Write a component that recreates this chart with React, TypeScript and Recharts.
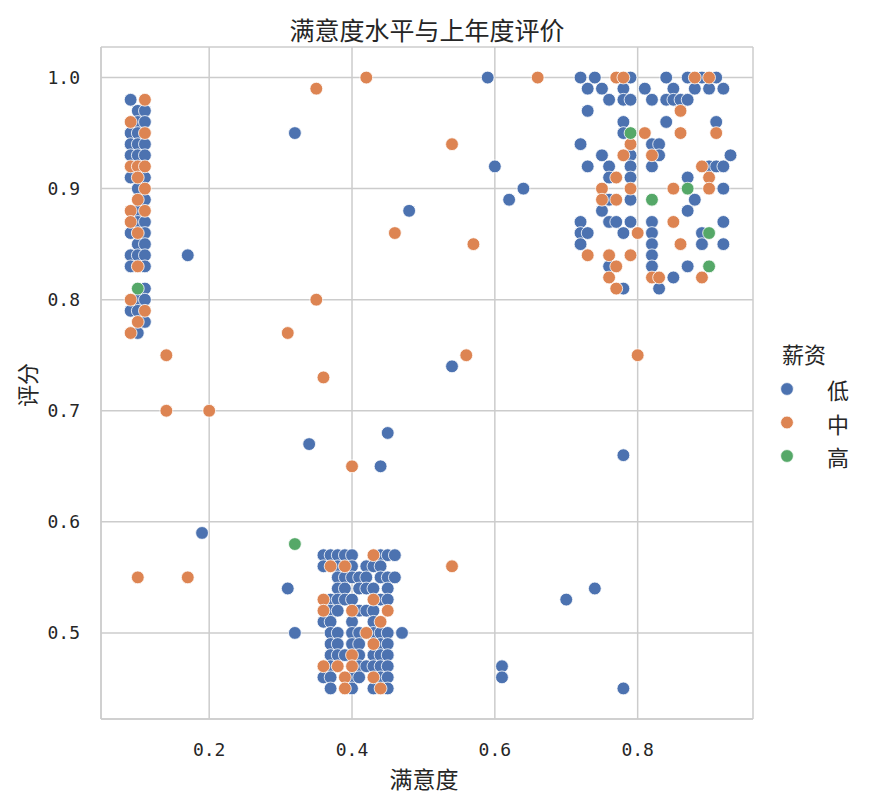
import React from 'react';
import { ScatterChart, Scatter, XAxis, YAxis, CartesianGrid } from 'recharts';

// [满意度, 评分] 按薪资分组
const lowPoints: [number, number][] = [
  // 左上簇
  [0.09, 0.98], [0.10, 0.97], [0.11, 0.97], [0.10, 0.96], [0.11, 0.96], [0.09, 0.95], [0.10, 0.95],
  [0.09, 0.94], [0.10, 0.94], [0.11, 0.94], [0.09, 0.93], [0.10, 0.93], [0.11, 0.93], [0.09, 0.91],
  [0.11, 0.91], [0.10, 0.90], [0.11, 0.89], [0.10, 0.88], [0.10, 0.87], [0.11, 0.87], [0.09, 0.86],
  [0.11, 0.86], [0.10, 0.85], [0.11, 0.85], [0.09, 0.84], [0.10, 0.84], [0.11, 0.84], [0.09, 0.83],
  [0.11, 0.83], [0.11, 0.81], [0.10, 0.80], [0.11, 0.80], [0.09, 0.79], [0.10, 0.79], [0.11, 0.78],
  [0.10, 0.77],
  // 下方簇
  [0.36, 0.57], [0.37, 0.57], [0.38, 0.57], [0.39, 0.57], [0.40, 0.57], [0.44, 0.57], [0.45, 0.57], [0.46, 0.57],
  [0.36, 0.56], [0.38, 0.56], [0.40, 0.56], [0.42, 0.56], [0.43, 0.56], [0.44, 0.56],
  [0.38, 0.55], [0.39, 0.55], [0.40, 0.55], [0.41, 0.55], [0.42, 0.55], [0.44, 0.55], [0.45, 0.55], [0.46, 0.55],
  [0.38, 0.54], [0.39, 0.54], [0.41, 0.54], [0.42, 0.54], [0.43, 0.54], [0.45, 0.54],
  [0.37, 0.53], [0.38, 0.53], [0.39, 0.53], [0.40, 0.53], [0.44, 0.53], [0.45, 0.53],
  [0.37, 0.52], [0.38, 0.52], [0.41, 0.52], [0.42, 0.52], [0.43, 0.52],
  [0.36, 0.51], [0.37, 0.51], [0.40, 0.51], [0.43, 0.51],
  [0.37, 0.50], [0.38, 0.50], [0.40, 0.50], [0.41, 0.50], [0.43, 0.50], [0.44, 0.50], [0.45, 0.50], [0.47, 0.50],
  [0.37, 0.49], [0.38, 0.49], [0.40, 0.49], [0.41, 0.49], [0.44, 0.49], [0.45, 0.49],
  [0.37, 0.48], [0.38, 0.48], [0.39, 0.48], [0.41, 0.48], [0.43, 0.48], [0.44, 0.48], [0.45, 0.48],
  [0.37, 0.47], [0.41, 0.47], [0.42, 0.47], [0.43, 0.47], [0.44, 0.47], [0.45, 0.47],
  [0.36, 0.46], [0.37, 0.46], [0.40, 0.46], [0.41, 0.46], [0.44, 0.46], [0.45, 0.46],
  [0.37, 0.45], [0.40, 0.45], [0.43, 0.45], [0.45, 0.45],
  // 右上簇
  [0.72, 1.0], [0.74, 1.0], [0.79, 1.0], [0.84, 1.0], [0.87, 1.0], [0.89, 1.0], [0.91, 1.0],
  [0.73, 0.99], [0.75, 0.99], [0.78, 0.99], [0.81, 0.99], [0.85, 0.99], [0.88, 0.99], [0.90, 0.99], [0.92, 0.99],
  [0.76, 0.98], [0.78, 0.98], [0.79, 0.98], [0.82, 0.98], [0.84, 0.98], [0.85, 0.98], [0.86, 0.98], [0.87, 0.98],
  [0.73, 0.97], [0.78, 0.96], [0.84, 0.96], [0.91, 0.96], [0.78, 0.95],
  [0.72, 0.94], [0.82, 0.94], [0.83, 0.94],
  [0.75, 0.93], [0.79, 0.93], [0.83, 0.93], [0.93, 0.93],
  [0.73, 0.92], [0.76, 0.92], [0.79, 0.92], [0.82, 0.92], [0.90, 0.92], [0.91, 0.92], [0.92, 0.92],
  [0.76, 0.91], [0.79, 0.91], [0.87, 0.91], [0.92, 0.90],
  [0.76, 0.89], [0.79, 0.89], [0.88, 0.89], [0.75, 0.88], [0.87, 0.88],
  [0.72, 0.87], [0.76, 0.87], [0.77, 0.87], [0.79, 0.87], [0.82, 0.87], [0.92, 0.87],
  [0.72, 0.86], [0.73, 0.86], [0.78, 0.86], [0.82, 0.86], [0.89, 0.86],
  [0.72, 0.85], [0.82, 0.85], [0.89, 0.85], [0.92, 0.85], [0.82, 0.84],
  [0.76, 0.83], [0.82, 0.83], [0.87, 0.83], [0.85, 0.82], [0.78, 0.81], [0.83, 0.81],
  // 零散点
  [0.32, 0.95], [0.59, 1.0], [0.60, 0.92], [0.64, 0.90], [0.62, 0.89], [0.48, 0.88], [0.17, 0.84],
  [0.54, 0.74], [0.34, 0.67], [0.45, 0.68], [0.44, 0.65], [0.78, 0.66], [0.19, 0.59], [0.31, 0.54],
  [0.32, 0.50], [0.70, 0.53], [0.74, 0.54], [0.61, 0.47], [0.61, 0.46], [0.78, 0.45],
];

const midPoints: [number, number][] = [
  [0.11, 0.98], [0.09, 0.96], [0.11, 0.95], [0.09, 0.92], [0.10, 0.92], [0.11, 0.92], [0.10, 0.91],
  [0.11, 0.90], [0.10, 0.89], [0.09, 0.88], [0.11, 0.88], [0.09, 0.87], [0.10, 0.86], [0.10, 0.83],
  [0.09, 0.80], [0.11, 0.79], [0.10, 0.78], [0.09, 0.77],
  [0.43, 0.57], [0.37, 0.56], [0.39, 0.56], [0.36, 0.53], [0.43, 0.53], [0.36, 0.52], [0.40, 0.52],
  [0.45, 0.52], [0.44, 0.51], [0.42, 0.50], [0.43, 0.49], [0.40, 0.48], [0.36, 0.47], [0.38, 0.47],
  [0.40, 0.47], [0.39, 0.46], [0.43, 0.46], [0.39, 0.45], [0.44, 0.45],
  [0.77, 1.0], [0.78, 1.0], [0.88, 1.0], [0.90, 1.0], [0.86, 0.97], [0.81, 0.95], [0.86, 0.95],
  [0.91, 0.95], [0.79, 0.94], [0.78, 0.93], [0.82, 0.93], [0.89, 0.92], [0.77, 0.91], [0.90, 0.91],
  [0.75, 0.90], [0.79, 0.90], [0.85, 0.90], [0.90, 0.90], [0.75, 0.89], [0.77, 0.89], [0.85, 0.87],
  [0.80, 0.86], [0.86, 0.85], [0.73, 0.84], [0.76, 0.84], [0.79, 0.84], [0.77, 0.83], [0.76, 0.82],
  [0.82, 0.82], [0.83, 0.82], [0.89, 0.82], [0.77, 0.81],
  [0.42, 1.0], [0.35, 0.99], [0.66, 1.0], [0.54, 0.94], [0.46, 0.86], [0.57, 0.85], [0.35, 0.80],
  [0.31, 0.77], [0.14, 0.75], [0.14, 0.70], [0.20, 0.70], [0.36, 0.73], [0.56, 0.75], [0.80, 0.75],
  [0.40, 0.65], [0.10, 0.55], [0.17, 0.55], [0.54, 0.56],
];

const highPoints: [number, number][] = [
  [0.10, 0.81], [0.32, 0.58], [0.79, 0.95], [0.82, 0.89], [0.87, 0.90], [0.90, 0.86], [0.90, 0.83],
];

const xTicks = [0.2, 0.4, 0.6, 0.8];
const yTicks = [0.5, 0.6, 0.7, 0.8, 0.9, 1.0];
const salaryLabels = ['低', '中', '高'];
const salaryColors = ['#4C72B0', '#DD8452', '#55A868'];

const toRows = (pts: [number, number][]) => pts.map(([x, y]) => ({ x, y }));

const cjk = '"Noto Sans CJK SC", sans-serif';
const tickStyle = { fill: '#262626', fontSize: 18, fontFamily: '"DejaVu Sans Mono", monospace' };

const dot = (color: string) => (p: any) => (
  <circle cx={p.cx} cy={p.cy} r={6.4} fill={color} stroke="#ffffff" strokeWidth={0.8} />
);

export default function App() {
  const series = [lowPoints, midPoints, highPoints];
  return (
    <div style={{ position: 'absolute', left: 0, top: 0, width: 870, height: 807, background: '#fff' }}>
      <ScatterChart width={870} height={807} margin={{ top: 47, right: 117, bottom: 0, left: 0 }}>
        <CartesianGrid stroke="#cccccc" strokeWidth={1.5} />
        <XAxis
          type="number"
          dataKey="x"
          domain={[0.0485, 0.9615]}
          ticks={xTicks}
          tickFormatter={(v) => v.toFixed(1)}
          allowDataOverflow
          height={88}
          tickLine={false}
          tickSize={0}
          tickMargin={24}
          axisLine={{ stroke: '#cccccc', strokeWidth: 1.5 }}
          tick={tickStyle}
        />
        <YAxis
          type="number"
          dataKey="y"
          domain={[0.4225, 1.0275]}
          ticks={yTicks}
          tickFormatter={(v) => v.toFixed(1)}
          allowDataOverflow
          width={101}
          tickLine={false}
          tickSize={0}
          tickMargin={21}
          axisLine={{ stroke: '#cccccc', strokeWidth: 1.5 }}
          tick={tickStyle}
        />
        {series.map((pts, i) => (
          <Scatter
            key={salaryLabels[i]}
            name={salaryLabels[i]}
            data={toRows(pts)}
            fill={salaryColors[i]}
            shape={dot(salaryColors[i])}
            isAnimationActive={false}
          />
        ))}
      </ScatterChart>
      <svg width={870} height={807} style={{ position: 'absolute', left: 0, top: 0, pointerEvents: 'none' }}>
        <text x={427} y={29} textAnchor="middle" dominantBaseline="central" fontSize={25} fontFamily={cjk} fill="#262626">
          满意度水平与上年度评价
        </text>
        <text x={424} y={778} textAnchor="middle" dominantBaseline="central" fontSize={23} fontFamily={cjk} fill="#262626">
          满意度
        </text>
        <text
          x={26}
          y={385}
          textAnchor="middle"
          dominantBaseline="central"
          fontSize={22}
          fontFamily={cjk}
          fill="#262626"
          transform="rotate(-90 26 385)"
        >
          评分
        </text>
        <text x={804} y={353} textAnchor="middle" dominantBaseline="central" fontSize={22} fontFamily={cjk} fill="#262626">
          薪资
        </text>
        {salaryLabels.map((s, i) => (
          <g key={s}>
            <circle cx={787} cy={389 + i * 33.5} r={6.4} fill={salaryColors[i]} stroke="#fff" strokeWidth={0.8} />
            <text x={838} y={389 + i * 33.5} textAnchor="middle" dominantBaseline="central" fontSize={22} fontFamily={cjk} fill="#262626">
              {s}
            </text>
          </g>
        ))}
      </svg>
    </div>
  );
}
